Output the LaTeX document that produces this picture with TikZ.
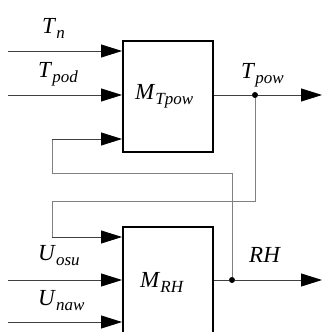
\documentclass[tikz,border=0pt]{standalone}
\usepackage{fontspec}
\setmainfont{Liberation Serif}
\usetikzlibrary{arrows.meta}
\newcommand{\lb}[2]{\textit{#1}\raisebox{-5pt}{\fontsize{17}{17}\selectfont\textit{#2}}}
\begin{document}
\begin{tikzpicture}[x=1pt,y=-1pt,
  blockbox/.style={draw=black,line width=2pt,minimum width=90pt,anchor=north west,inner sep=0pt},
  sig/.style={draw=black!75,line width=0.8pt},
  fb/.style={draw=black!50,line width=0.9pt},
  tip/.style={-{Triangle[length=21pt,width=13pt,color=black]}},
  lbl/.style={font=\fontsize{23}{26}\selectfont,inner sep=0pt,anchor=base west},
  dot/.style={circle,fill=black,inner sep=0pt,minimum size=6pt}]
\useasboundingbox (0,0) rectangle (322,332);
\clip (0,0) rectangle (322,332);
% boxes
\node[blockbox,minimum height=111pt] (m1) at (122,40) {};
\node[blockbox,minimum height=130pt] (m2) at (122,226) {};
\node[lbl] (m1l) at (135,99) {\lb{M}{Tpow}};
\node[lbl] (m2l) at (140,287) {\lb{M}{RH}};
% input coordinates
\coordinate (i1) at (8,51);
\coordinate (i2) at (8,95);
\coordinate (i4) at (8,280);
\coordinate (i5) at (8,322);
\coordinate (o1) at (322,95);
\coordinate (o2) at (322,280);
\node[dot] (d1) at (255,95) {};
\node[dot] (d2) at (232,280) {};
\coordinate (f1) at (52,139);
\coordinate (f1a) at (52,173);
\coordinate (f1b) at (232,173);
\coordinate (f2a) at (255,201);
\coordinate (f2b) at (52,201);
\coordinate (f2c) at (52,237);
% feedback lines
\draw[fb] (d2) -- (f1b) -- (f1a) -- (f1);
\draw[fb] (d1) -- (f2a) -- (f2b) -- (f2c);
% inputs
\draw[sig,tip] (i1) -- (i1 -| m1.west);
\draw[sig,tip] (i2) -- (i2 -| m1.west);
\draw[sig,tip] (f1) -- (f1 -| m1.west);
\draw[sig,tip] (f2c) -- (f2c -| m2.west);
\draw[sig,tip] (i4) -- (i4 -| m2.west);
\draw[sig,tip] (i5) -- (i5 -| m2.west);
% outputs
\draw[sig] (o1 -| m1.east) -- (d1);
\draw[sig,tip] (d1) -- (o1);
\draw[sig] (o2 -| m2.east) -- (d2);
\draw[sig,tip] (d2) -- (o2);
% labels
\node[lbl] (ltn) at (42,34) {\lb{T}{n}};
\node[lbl] (ltpod) at (38,77) {\lb{T}{pod}};
\node[lbl] (ltpow) at (241,78) {\lb{T}{pow}};
\node[lbl] (luosu) at (38,260) {\lb{U}{osu}};
\node[lbl] (lunaw) at (38,305) {\lb{U}{naw}};
\node[lbl] (lrh) at (249,262) {\textit{RH}};
\end{tikzpicture}
\end{document}
